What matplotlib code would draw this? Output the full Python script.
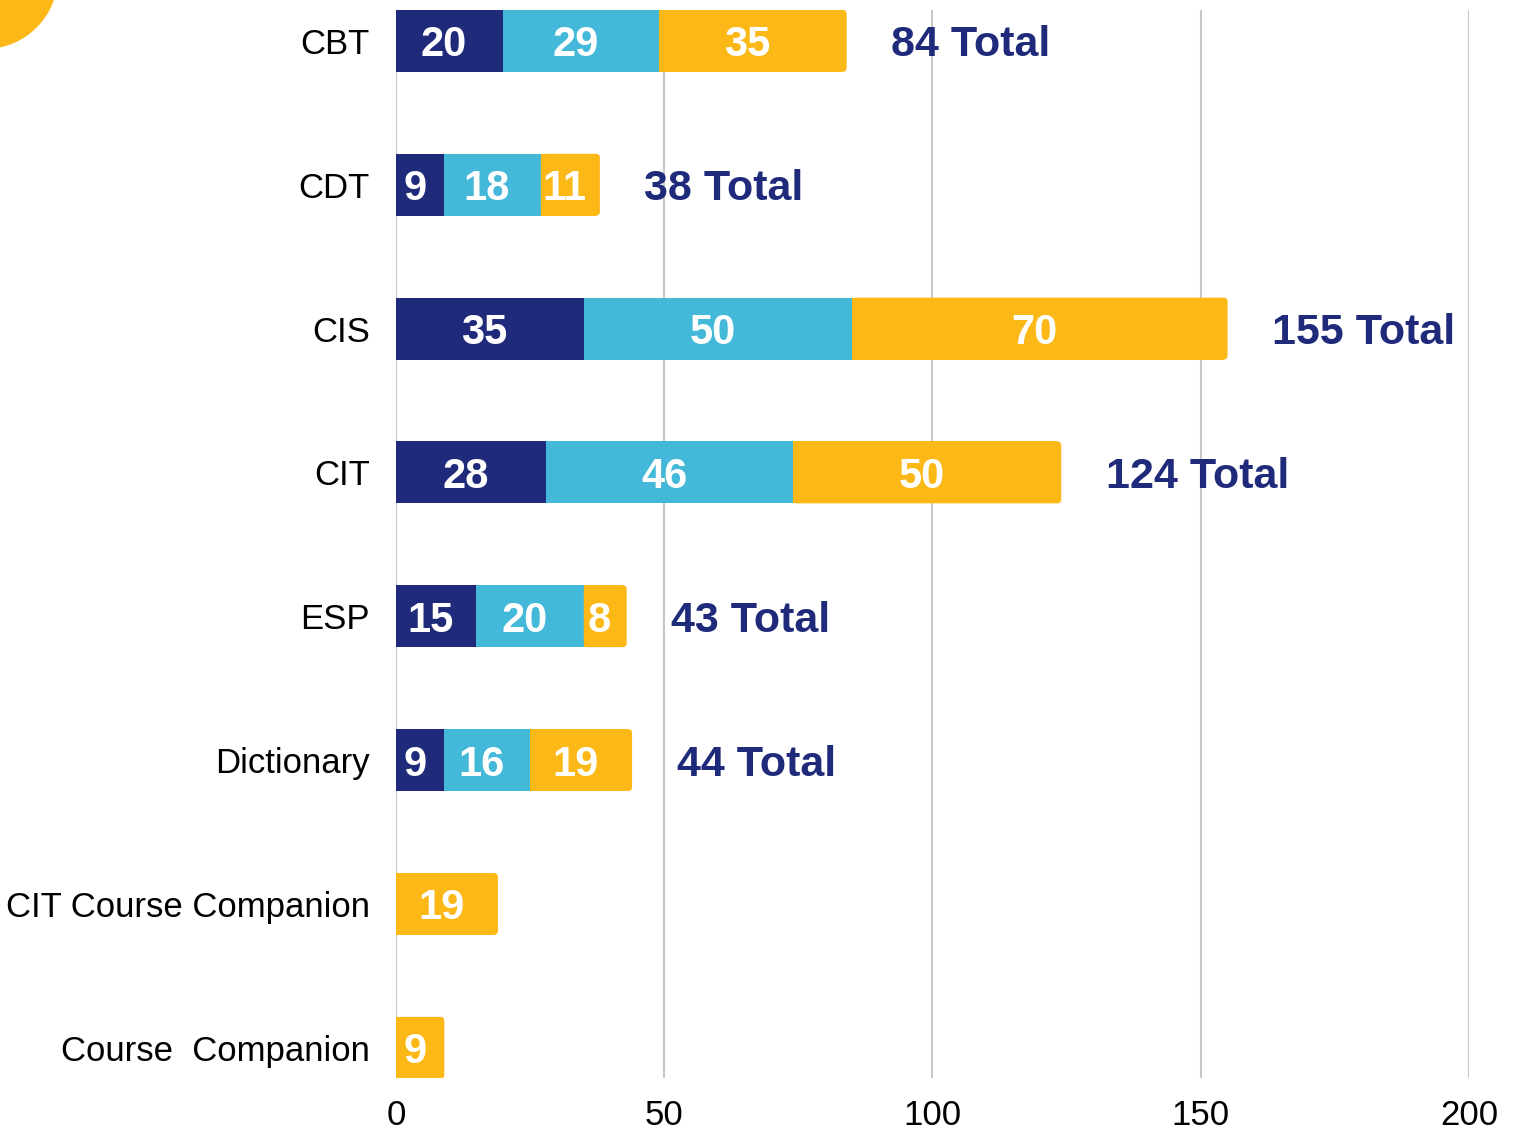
import matplotlib
matplotlib.use("Agg")
import matplotlib.pyplot as plt
from matplotlib.patches import FancyBboxPatch, Ellipse
import numpy as np

categories = ["CBT", "CDT", "CIS", "CIT", "ESP", "Dictionary",
              "CIT Course Companion", "Course  Companion"]
series_a = [20, 9, 35, 28, 15, 9, 0, 0]
series_b = [29, 18, 50, 46, 20, 16, 0, 0]
series_c = [35, 11, 70, 50, 8, 19, 19, 9]
totals = [84, 38, 155, 124, 43, 44, None, None]
x_ticks = [0, 50, 100, 150, 200]

NAVY = "#1F2A7A"
BLUE = "#43B8D8"
GOLD = "#FBB817"
LABEL_FONT = ["Liberation Sans", "DejaVu Sans"]

plt.rcParams["font.family"] = ["Liberation Sans", "DejaVu Sans"]

fig = plt.figure(figsize=(15.15, 11.32), dpi=100)
ax = fig.add_axes([0.2614, 0.0477, 0.9696 - 0.2614, 0.9912 - 0.0477])

y = np.arange(len(categories))
h = 0.43
a = np.array(series_a, float)
b = np.array(series_b, float)
c = np.array(series_c, float)

ax.barh(y, a, height=h, color=NAVY, zorder=3)
ax.barh(y, b, left=a, height=h, color=BLUE, zorder=3)

# last segment gets rounded right corners
r = 0.75          # rounding in x data units
aspect = (4 / 144) / r
left_c = a + b
ax.barh(y, np.maximum(c - r, 0), left=left_c, height=h, color=GOLD, zorder=3)
for yi, l, w in zip(y, left_c, c):
    if w <= 0:
        continue
    ax.add_patch(FancyBboxPatch((l, yi - h / 2), w, h,
                                boxstyle=f"round,pad=0,rounding_size={r}",
                                mutation_aspect=aspect, fc=GOLD, ec="none",
                                zorder=3))

# segment labels
for vals, lefts in [(a, np.zeros_like(a)), (b, a), (c, a + b)]:
    for yi, v, l in zip(y, vals, lefts):
        if v > 0:
            ax.annotate(f"{v:g}", (l + v / 2, yi), xytext=(-4, 0),
                        textcoords="offset points", ha="center",
                        va="center_baseline", color="white", fontsize=30,
                        fontweight="bold", family=LABEL_FONT, zorder=4)

# totals
for yi, t, end in zip(y, totals, a + b + c):
    if t is None:
        continue
    ax.annotate(f"{t} Total", (end, yi), xytext=(32, 0),
                textcoords="offset points", ha="left", va="center_baseline",
                color=NAVY, fontsize=31, fontweight="bold",
                family=LABEL_FONT, zorder=2)

ax.set_xlim(0, 200)
ax.set_ylim(len(categories) - 1 + 0.21, -0.215)
ax.set_xticks(x_ticks)
ax.set_yticks(y)
ax.set_yticklabels(categories)
ax.tick_params(axis="both", length=0, labelsize=25, colors="black")
ax.tick_params(axis="y", pad=19)
ax.tick_params(axis="x", pad=15)
ax.grid(axis="x", color="#C8C8C8", linewidth=1.5, zorder=0)
ax.set_axisbelow(True)
for s in ax.spines.values():
    s.set_visible(False)

# decorative circle in the top-left corner
fig.patches.append(Ellipse((-15 / 1515, 1 + 24 / 1132), 2 * 73 / 1515,
                           2 * 73 / 1132, transform=fig.transFigure,
                           fc=GOLD, ec="none", zorder=0))

fig.savefig("out.png", dpi=100)
